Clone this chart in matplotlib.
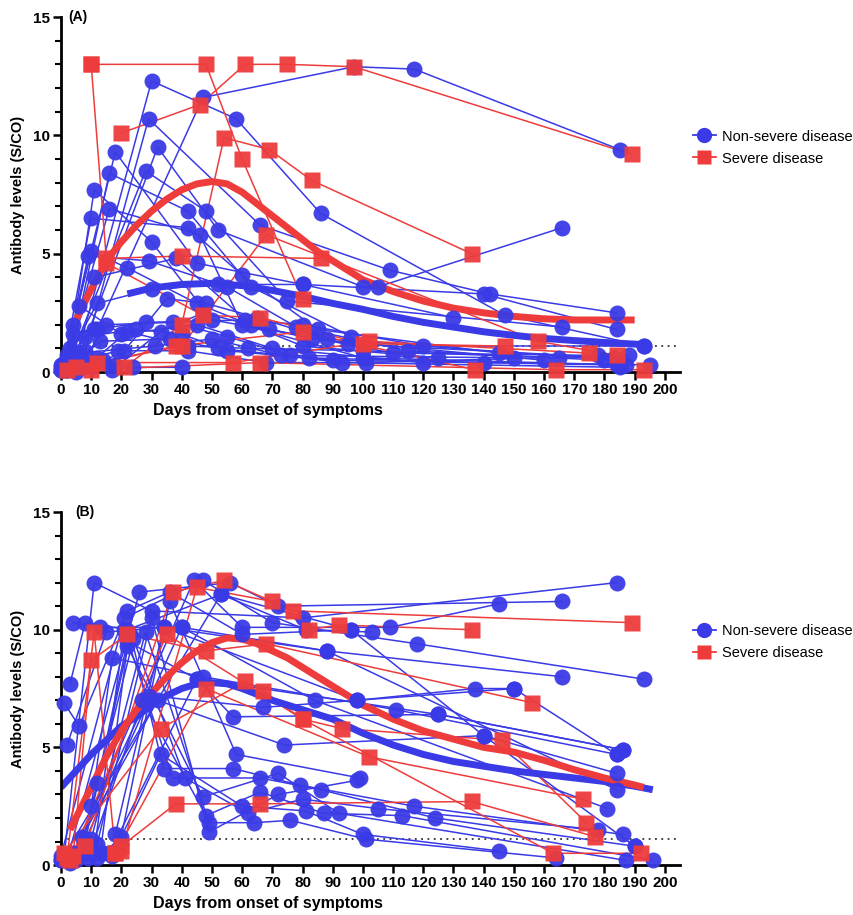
import matplotlib.pyplot as plt
from matplotlib.lines import Line2D

plt.rcParams['font.family'] = ['Liberation Sans', 'DejaVu Sans']

BLUE = '#3a3ae6'
RED = '#ee3c3c'

# ---- panel A: individual trajectories (days, S/CO) ----
nonsevere_a = [
    ([5, 30, 58, 86, 147, 193], [0.5, 12.3, 10.7, 6.7, 2.4, 1.1]),
    ([12, 47, 97, 117, 185], [1.8, 11.6, 12.9, 12.8, 9.4]),
    ([8, 29, 66, 109, 142, 184], [0.9, 10.7, 6.2, 4.3, 3.3, 2.5]),
    ([5, 32, 52, 100, 105, 166], [0.3, 9.5, 6.0, 3.6, 3.6, 6.1]),
    ([4, 18, 45, 80, 140, 184], [2.0, 9.3, 4.6, 3.7, 3.3, 1.8]),
    ([3, 16, 42, 63, 96], [0.6, 8.4, 6.8, 3.6, 1.5]),
    ([2, 28, 48, 75, 166], [0.2, 8.5, 6.8, 3.0, 1.9]),
    ([1, 10, 42, 60, 85, 145], [0.4, 6.5, 6.1, 4.1, 1.8, 0.8]),
    ([2, 11, 30, 50, 95, 183], [0.1, 7.7, 5.5, 2.2, 1.2, 0.6]),
    ([3, 16, 46, 60, 100, 187], [1.0, 6.9, 5.8, 2.0, 0.6, 0.3]),
    ([1, 10, 22, 45, 80, 125], [0.3, 5.1, 4.4, 2.9, 1.1, 0.6]),
    ([2, 9, 29, 55, 78, 115, 180], [0.7, 4.9, 4.7, 3.6, 1.9, 0.9, 0.5]),
    ([1, 11, 38, 63, 83, 160], [0.2, 4.0, 4.8, 2.0, 1.4, 0.5]),
    ([0, 12, 30, 52, 80, 130], [0.1, 2.9, 3.5, 3.7, 3.7, 2.3]),
    ([4, 6, 20, 45, 70, 120], [0.4, 2.8, 1.6, 2.0, 1.0, 0.4]),
    ([0, 8, 25, 40, 55, 90, 184], [0.2, 1.5, 1.8, 1.6, 0.9, 0.5, 0.3]),
    ([2, 14, 24, 40], [0.1, 0.5, 0.2, 0.2]),
    ([5, 9, 22, 42, 62, 100, 165], [0.0, 0.3, 1.7, 1.1, 1.0, 0.9, 0.6]),
    ([0, 6, 31, 50, 73, 93, 185], [0.3, 0.8, 1.1, 1.4, 0.7, 0.4, 0.2]),
    ([3, 13, 36, 52, 82, 140, 195], [0.2, 1.3, 1.4, 1.0, 0.6, 0.4, 0.3]),
    ([1, 17, 33, 47, 69, 110, 178], [0.1, 0.1, 1.7, 2.5, 1.8, 0.8, 0.7]),
    ([6, 15, 37, 55, 76, 150], [0.2, 2.0, 2.1, 1.5, 0.7, 0.6]),
    ([7, 19, 42, 68, 101, 188], [0.5, 0.9, 0.9, 0.4, 0.4, 0.7]),
    ([4, 11, 28, 61, 80, 120, 193], [1.6, 1.8, 2.1, 2.2, 2.0, 1.1, 1.1]),
    ([10, 21, 35, 48, 65, 88, 184], [0.2, 0.9, 3.1, 2.9, 2.3, 1.4, 0.5]),
    ([0, 3, 7, 12, 18], [0.1, 0.4, 0.2, 0.6, 0.3]),
]

severe_a = [
    ([10, 48, 60, 80], [13.0, 13.0, 9.0, 3.1]),
    ([20, 46, 61, 75, 97, 189], [10.1, 11.3, 13.0, 13.0, 12.9, 9.2]),
    ([21, 40, 54, 69, 83, 136], [0.2, 2.0, 9.9, 9.4, 8.1, 5.0]),
    ([10, 15, 40, 86], [13.0, 4.8, 4.9, 4.8]),
    ([15, 47, 66, 100, 147], [4.6, 2.4, 2.3, 1.2, 1.1]),
    ([5, 40, 68, 158, 184], [0.2, 1.1, 5.8, 1.3, 0.7]),
    ([2, 38, 80, 137], [0.1, 1.1, 1.7, 0.1]),
    ([10, 66, 164, 193], [0.1, 0.4, 0.1, 0.1]),
    ([12, 57, 102, 175], [0.4, 0.4, 1.3, 0.8]),
]

fit_days_sev_a = [5, 10, 15, 20, 25, 30, 35, 40, 45, 50, 55, 60, 65, 70, 75, 80, 85,
                  90, 100, 110, 120, 130, 140, 150, 160, 170, 180, 190]
fit_vals_sev_a = [2.2, 3.5, 4.7, 5.5, 6.2, 6.8, 7.3, 7.7, 7.95, 8.05, 7.95, 7.6, 7.1,
                  6.6, 6.1, 5.6, 5.1, 4.7, 3.9, 3.4, 3.0, 2.7, 2.5, 2.35, 2.25, 2.2, 2.2, 2.2]
fit_days_non_a = [22, 30, 40, 50, 60, 70, 80, 90, 100, 110, 120, 130, 140, 150, 160,
                  170, 180, 190, 195]
fit_vals_non_a = [3.3, 3.55, 3.7, 3.75, 3.65, 3.45, 3.2, 2.9, 2.65, 2.35, 2.1, 1.9,
                  1.7, 1.55, 1.42, 1.33, 1.25, 1.18, 1.15]

# ---- panel B ----
nonsevere_b = [
    ([1, 11, 30, 80, 184], [0.3, 12.0, 10.8, 10.5, 12.0]),
    ([2, 26, 56, 72, 166], [0.2, 11.6, 12.0, 11.0, 11.2]),
    ([4, 44, 60, 109, 145], [0.5, 12.1, 10.1, 10.1, 11.1]),
    ([0, 21, 47, 70, 118, 193], [0.4, 10.5, 12.1, 10.3, 9.4, 7.9]),
    ([4, 13, 40, 88, 166], [10.3, 10.1, 10.1, 9.1, 8.0]),
    ([3, 8, 22, 53, 81, 103], [7.7, 10.3, 10.0, 11.5, 10.0, 9.9]),
    ([1, 6, 22, 36, 60, 96], [6.9, 5.9, 10.8, 11.6, 9.8, 10.0]),
    ([2, 15, 34, 98, 150], [5.1, 9.9, 10.1, 7.0, 7.5]),
    ([12, 22, 45, 125, 186], [3.5, 9.5, 7.9, 6.4, 4.9]),
    ([10, 17, 47, 111, 184], [2.5, 8.8, 8.0, 6.6, 4.7]),
    ([8, 23, 34, 57, 79, 117, 186], [1.0, 9.8, 4.1, 4.1, 3.4, 2.5, 1.3]),
    ([11, 21, 37, 66, 86, 124, 190], [0.6, 10.0, 3.7, 3.7, 3.2, 2.0, 0.8]),
    ([6, 24, 41, 62, 80, 105, 178], [0.4, 9.6, 3.7, 2.2, 2.8, 2.4, 1.5]),
    ([13, 22, 47, 72, 92, 187], [0.5, 9.3, 2.9, 3.9, 2.2, 0.2]),
    ([9, 27, 48, 66, 87, 113, 196], [0.3, 7.0, 2.1, 3.1, 2.2, 2.1, 0.2]),
    ([10, 28, 49, 64, 76, 101, 164], [1.1, 9.9, 1.8, 1.8, 1.9, 1.1, 0.3]),
    ([12, 30, 49, 72, 98], [0.9, 10.5, 1.4, 3.0, 3.6]),
    ([14, 20, 33, 60, 81, 100, 145], [0.5, 1.2, 4.7, 2.5, 2.3, 1.3, 0.6]),
    ([3, 29, 67, 98, 137, 150, 184], [0.1, 7.2, 6.7, 7.0, 7.5, 7.5, 4.7]),
    ([7, 32, 74, 140, 184], [1.2, 7.0, 5.1, 5.5, 3.9]),
    ([16, 45, 57, 125, 186], [0.5, 7.9, 6.3, 6.4, 4.9]),
    ([18, 34, 88, 184], [1.3, 10.1, 9.1, 3.2]),
    ([5, 40, 84, 181], [0.2, 10.1, 7.0, 2.4]),
    ([19, 36, 58, 99], [0.6, 11.2, 4.7, 3.7]),
    ([0, 53, 96, 140, 190], [0.2, 11.5, 10.0, 5.5, 0.8]),
    ([0, 9, 12, 17, 20], [0.2, 0.5, 0.3, 0.4, 0.9]),
]

severe_b = [
    ([2, 11, 18, 20, 38, 66, 136, 177], [0.3, 9.9, 0.5, 0.8, 2.6, 2.6, 2.7, 1.2]),
    ([4, 10, 22, 48, 68, 156], [0.4, 8.7, 9.8, 9.1, 9.4, 6.9]),
    ([1, 33, 61, 67, 80, 93, 146, 174], [0.5, 5.8, 7.8, 7.4, 6.2, 5.8, 5.3, 1.8]),
    ([8, 37, 54, 77, 189], [0.8, 11.6, 12.1, 10.8, 10.3]),
    ([20, 45, 70, 82, 92, 136], [0.6, 11.8, 11.2, 10.0, 10.2, 10.0]),
    ([18, 48, 102, 173], [0.5, 7.5, 4.6, 2.8]),
    ([3, 35, 80, 163, 192], [0.2, 9.8, 6.2, 0.5, 0.5]),
]

fit_days_sev_b = [3, 10, 15, 20, 25, 30, 35, 40, 45, 50, 55, 60, 65, 70, 75, 80, 90,
                  100, 110, 120, 130, 140, 150, 160, 170, 180, 190, 193]
fit_vals_sev_b = [1.5, 3.3, 4.6, 5.7, 6.6, 7.3, 8.0, 8.6, 9.1, 9.45, 9.65, 9.6, 9.4,
                  9.1, 8.8, 8.4, 7.6, 6.8, 6.2, 5.7, 5.35, 5.0, 4.8, 4.45, 4.05, 3.7, 3.4, 3.3]
fit_days_non_b = [0, 5, 10, 15, 20, 25, 30, 35, 40, 45, 50, 55, 60, 70, 80, 90, 100,
                  110, 120, 130, 140, 150, 160, 170, 180, 190, 196]
fit_vals_non_b = [3.3, 4.0, 4.7, 5.3, 5.9, 6.3, 6.8, 7.2, 7.5, 7.7, 7.75, 7.7, 7.5,
                  7.0, 6.6, 6.2, 5.6, 5.1, 4.7, 4.4, 4.2, 4.0, 3.85, 3.7, 3.55, 3.35, 3.2]

cutoff = 1.1

fig = plt.figure(figsize=(8.54, 9.15), dpi=100)
ax_a = fig.add_axes([0.0714, 0.5934, 0.7248, 0.388])
ax_b = fig.add_axes([0.0714, 0.0546, 0.7248, 0.3858])


def draw_panel(ax, nonsev, sev, fits, tag, tag_x):
    for d, v in nonsev:
        ax.plot(d, v, color=BLUE, lw=1.1, zorder=2, clip_on=False)
    for d, v in sev:
        ax.plot(d, v, color=RED, lw=1.1, zorder=2, clip_on=False)
    (fd_s, fv_s), (fd_n, fv_n) = fits
    ax.plot(fd_n, fv_n, color=BLUE, lw=5, zorder=2.5, solid_capstyle='butt')
    ax.plot(fd_s, fv_s, color=RED, lw=5, zorder=2.5, solid_capstyle='butt')
    for d, v in nonsev:
        ax.plot(d, v, ls='none', marker='o', ms=11.5, mfc=BLUE, mec='none',
                alpha=0.95, zorder=3, clip_on=False)
    for d, v in sev:
        ax.plot(d, v, ls='none', marker='s', ms=11, mfc=RED, mec='none',
                alpha=0.95, zorder=3, clip_on=False)
    ax.plot([0, 205], [cutoff, cutoff], color='#333333', ls=(0, (1, 2.5)), lw=1.3, zorder=1)

    ax.set_xlim(0, 205)
    ax.set_ylim(0, 15)
    ax.set_xticks(range(0, 201, 10))
    ax.set_yticks([0, 5, 10, 15])
    ax.set_yticks(range(0, 16), minor=True)
    for s in ['top', 'right']:
        ax.spines[s].set_visible(False)
    for s in ['left', 'bottom']:
        ax.spines[s].set_linewidth(2)
    ax.tick_params(axis='both', which='major', width=1.8, length=6, labelsize=11, pad=2)
    ax.tick_params(axis='y', which='minor', width=1.5, length=4)
    for lab in ax.get_xticklabels() + ax.get_yticklabels():
        lab.set_fontweight('bold')
    ax.set_xlabel('Days from onset of symptoms', fontsize=11.5, fontweight='bold')
    ax.xaxis.set_label_coords(0.334, -0.088)
    ax.set_ylabel('Antibody levels (S/CO)', fontsize=10.5, fontweight='bold', labelpad=6)
    ax.text(tag_x, 1.0, tag, transform=ax.transAxes, fontsize=10, fontweight='bold',
            ha='left', va='center')

    handles = [
        Line2D([], [], color=BLUE, lw=1.3, marker='o', ms=11, mec='none'),
        Line2D([], [], color=RED, lw=1.3, marker='s', ms=10.5, mec='none'),
    ]
    ax.legend(handles, ['Non-severe disease', 'Severe disease'], loc='upper left',
              bbox_to_anchor=(1.0, 0.72), frameon=False, fontsize=10.5,
              handlelength=1.55, handletextpad=0.4, labelspacing=0.55)


draw_panel(ax_a, nonsevere_a, severe_a,
           ((fit_days_sev_a, fit_vals_sev_a), (fit_days_non_a, fit_vals_non_a)), '(A)', 0.011)
draw_panel(ax_b, nonsevere_b, severe_b,
           ((fit_days_sev_b, fit_vals_sev_b), (fit_days_non_b, fit_vals_non_b)), '(B)', 0.023)

fig.savefig('out.png', dpi=100)
